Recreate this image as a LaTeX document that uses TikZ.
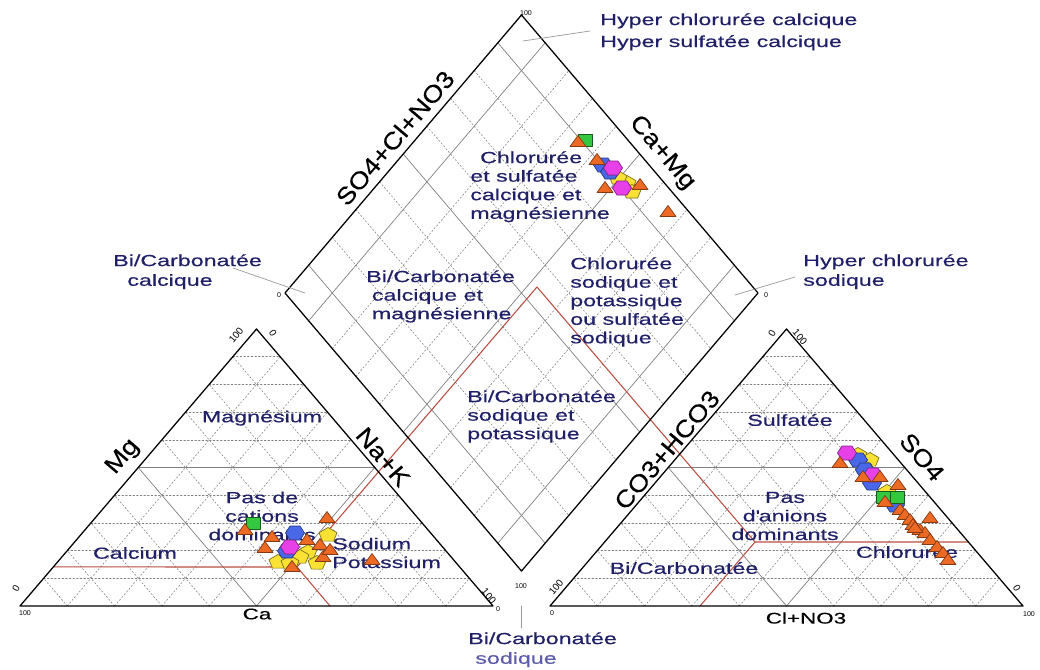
\documentclass[tikz,border=0pt]{standalone}
\usepackage{fontspec}
\setmainfont{Liberation Sans}[FakeStretch=1.45,FakeBold=0.4]
\newfontfamily\slantlab{Liberation Sans}[FakeStretch=1.14,FakeBold=0.3]
\newfontfamily\plainlab{Liberation Sans}
\usetikzlibrary{calc}

\definecolor{zonetext}{RGB}{32,32,104}
\definecolor{softtext}{RGB}{92,92,170}
\definecolor{projred}{RGB}{185,78,66}
\definecolor{gridgray}{RGB}{128,128,128}
\definecolor{mkorange}{RGB}{236,106,36}
\definecolor{mkyellow}{RGB}{250,226,52}
\definecolor{mkblue}{RGB}{72,104,232}
\definecolor{mkmagenta}{RGB}{232,64,232}
\definecolor{mkgreen}{RGB}{52,200,64}

\tikzset{
  mk/.style={line width=.5pt},
  otri/.pic={\draw[mk,fill=mkorange,draw=mkorange!55!black] (-8,4.5) -- (8,4.5) -- (0,-6.5) -- cycle;},
  ypent/.pic={\draw[mk,fill=mkyellow,draw=mkyellow!50!black] (0,-7.5) -- (-9,-2.3) -- (-5.6,6.1) -- (5.6,6.1) -- (9,-2.3) -- cycle;},
  bhex/.pic={\draw[mk,fill=mkblue,draw=mkblue!55!black] (-9.5,0) -- (-5,-7) -- (5,-7) -- (9.5,0) -- (5,7) -- (-5,7) -- cycle;},
  mhex/.pic={\draw[mk,fill=mkmagenta,draw=mkmagenta!55!black] (-9.5,0) -- (-5,-7) -- (5,-7) -- (9.5,0) -- (5,7) -- (-5,7) -- cycle;},
  gsq/.pic={\draw[mk,fill=mkgreen,draw=mkgreen!45!black] (-7,-6) rectangle (7,6);}
}

\begin{document}
\begin{tikzpicture}[x=0.025cm,y=-0.025cm,line cap=round,line join=round,
  rim/.style={line width=.9pt},
  maingrid/.style={line width=.5pt,gridgray},
  finegrid/.style={line width=.4pt,gridgray,dash pattern=on 1.2pt off 1.4pt},
  proj/.style={line width=.75pt,projred},
  lead/.style={line width=.5pt,black!40},
  zone/.style={text=zonetext,font=\fontsize{11.4}{13.2}\selectfont,inner sep=0pt},
  axlab/.style={font=\slantlab\fontsize{17}{20}\selectfont,inner sep=0pt},
  baselab/.style={font=\fontsize{11}{13}\selectfont,inner sep=0pt},
  numlab/.style={font=\plainlab\fontsize{5}{6}\selectfont,inner sep=0pt},
  rnumlab/.style={font=\plainlab\fontsize{7}{8}\selectfont,inner sep=0pt}]

  \useasboundingbox (0,0) rectangle (1040,670);

  %% ---- corners of the three plots
  \coordinate (L1) at (20,606);  \coordinate (L2) at (493,606);  \coordinate (L3) at (256.5,329);
  \coordinate (R1) at (550,606); \coordinate (R2) at (1023,606); \coordinate (R3) at (786.5,329);
  \coordinate (DL) at (285,293); \coordinate (DB) at (521.5,571);
  \coordinate (DR) at (758,293); \coordinate (DT) at (521.5,15);

  %% ---- grids
  % triangles: dashed every 10 %, solid at 50 %
  \foreach \t in {.1,.2,.3,.4,.6,.7,.8,.9} {
    \draw[finegrid] ($(L1)!\t!(L3)$) -- ($(L2)!\t!(L3)$);
    \draw[finegrid] ($(L1)!\t!(L2)$) -- ($(L3)!\t!(L2)$);
    \draw[finegrid] ($(L1)!\t!(L2)$) -- ($(L1)!\t!(L3)$);
    \draw[finegrid] ($(R1)!\t!(R3)$) -- ($(R2)!\t!(R3)$);
    \draw[finegrid] ($(R1)!\t!(R2)$) -- ($(R3)!\t!(R2)$);
    \draw[finegrid] ($(R1)!\t!(R2)$) -- ($(R1)!\t!(R3)$);
  }
  \draw[maingrid] ($(L1)!.5!(L3)$) -- ($(L2)!.5!(L3)$) -- ($(L1)!.5!(L2)$) -- cycle;
  \draw[maingrid] ($(R1)!.5!(R3)$) -- ($(R2)!.5!(R3)$) -- ($(R1)!.5!(R2)$) -- cycle;
  % diamond
  \foreach \t in {.2,.3,.4,.6,.7,.8} {
    \draw[finegrid] ($(DL)!\t!(DB)$) -- ($(DT)!\t!(DR)$);
    \draw[finegrid] ($(DL)!\t!(DT)$) -- ($(DB)!\t!(DR)$);
  }
  \foreach \t in {.1,.5,.9} {
    \draw[maingrid] ($(DL)!\t!(DB)$) -- ($(DT)!\t!(DR)$);
    \draw[maingrid] ($(DL)!\t!(DT)$) -- ($(DB)!\t!(DR)$);
  }

  %% ---- projection of the mean sample
  \coordinate (Pc) at (297,567);
  \coordinate (Pa) at (755,542);
  \coordinate (Pd) at (537,287);
  \draw[proj] ($(L1)!.141!(L3)$) -- (Pc) -- (330,606);
  \draw[proj] (Pc) -- (Pd) -- (Pa);
  \draw[proj] (700,606) -- (Pa) -- ($(R2)!.231!(R3)$);

  %% ---- frames
  \draw[rim] (L1) -- (L2) -- (L3) -- cycle;
  \draw[rim] (R1) -- (R2) -- (R3) -- cycle;
  \draw[rim] (DL) -- (DB) -- (DR) -- (DT) -- cycle;

  %% ---- axis titles and scale numbers
  \node[axlab,rotate=49.6]  (mg)   at (123,457) {Mg};
  \node[axlab,rotate=-49.6] (nak)  at (383,457) {Na+K};
  \node[baselab]            (ca)   at (257,614) {Ca};
  \node[axlab,rotate=49.6]  (co3)  at (667,450) {CO3+HCO3};
  \node[axlab,rotate=-49.6] (so4)  at (922,457) {SO4};
  \node[baselab]            (clno) at (806,618) {Cl+NO3};
  \node[axlab,rotate=49.6]  (so4cl) at (395,138) {SO4+Cl+NO3};
  \node[axlab,rotate=-49.6] (camg) at (662,153) {Ca+Mg};

  \node[numlab]               (nL1a) at (25,613)  {100};
  \node[rnumlab,rotate=60]    (nL1b) at (16,588)  {0};
  \node[rnumlab,rotate=49.6]  (nL3a) at (236,335) {100};
  \node[rnumlab,rotate=-60]   (nL3b) at (273,333) {0};
  \node[rnumlab,rotate=-49.6] (nL2a) at (489,596) {100};
  \node[numlab]               (nL2b) at (498,609) {0};
  \node[numlab]               (nR1a) at (552,613) {0};
  \node[rnumlab,rotate=49.6]  (nR1b) at (556,587) {100};
  \node[rnumlab,rotate=60]    (nR3a) at (772,333) {0};
  \node[rnumlab,rotate=-49.6] (nR3b) at (800,337) {100};
  \node[rnumlab,rotate=-60]   (nR2a) at (1017,588) {0};
  \node[numlab]               (nR2b) at (1029,614) {100};
  \node[numlab]               (nDT)  at (526,13)  {100};
  \node[numlab]               (nDL)  at (279,295) {0};
  \node[numlab]               (nDR)  at (766,295) {0};
  \node[numlab]               (nDB)  at (521,586) {100};

  %% ---- water types
  % diamond
  \node[zone,anchor=north west,align=left] (clsu)  at (470,151)
    {\hspace{7pt}Chlorurée\\et sulfatée\\calcique et\\magnésienne};
  \node[zone,anchor=north west,align=left] (bicm)  at (366,270)
    {Bi/Carbonatée\\\hspace{4pt}calcique et\\\hspace{4pt}magnésienne};
  \node[zone,anchor=north west,align=left] (clnak) at (570,257)
    {Chlorurée\\sodique et\\potassique\\ou sulfatée\\sodique};
  \node[zone,anchor=north west,align=left] (binak) at (467,390)
    {Bi/Carbonatée\\sodique et\\potassique};
  % cations
  \node[zone] (magn) at (262,418) {Magnésium};
  \node[zone,align=center] (nocat) at (262,516) {Pas de\\cations\\dominants};
  \node[zone] (calc) at (135,553) {Calcium};
  \node[zone,anchor=west,align=left] (napk) at (332,553) {Sodium\\Potassium};
  % anions
  \node[zone] (sulf) at (790,420) {Sulfatée};
  \node[zone,align=center] (noan) at (785,516) {Pas\\d\textquotesingle anions\\dominants};
  \node[zone] (bica) at (684,568) {Bi/Carbonatée};
  \node[zone] (chlo) at (907,552) {Chlorurée};
  % outer notes
  \node[zone,anchor=north west,align=left,font=\fontsize{11.4}{15.6}\selectfont] (hycc) at (600,13)
    {Hyper chlorurée calcique\\Hyper sulfatée calcique};
  \node[zone,anchor=north west,align=left,font=\fontsize{11.4}{14}\selectfont] (bicc) at (113,254)
    {Bi/Carbonatée\\\hspace{10pt}calcique};
  \node[zone,anchor=north west,align=left,font=\fontsize{11.4}{14}\selectfont] (hycs) at (803,254)
    {Hyper chlorurée\\sodique};
  \node[zone,anchor=north west,align=left,font=\fontsize{11.4}{14}\selectfont] (bics) at (468,632)
    {Bi/Carbonatée\\\hspace{5pt}\textcolor{softtext}{sodique}};

  \coordinate (hycc in) at (523,41);  \coordinate (hycc out) at (590,31);
  \coordinate (bicc in) at (305,293); \coordinate (bicc out) at (233,268);
  \coordinate (hycs in) at (735,295); \coordinate (hycs out) at (795,277);
  \coordinate (bics in) at (521,606); \coordinate (bics out) at (521,628);
  \draw[lead] (hycc in) -- (hycc out);
  \draw[lead] (bicc in) -- (bicc out);
  \draw[lead] (hycs in) -- (hycs out);
  \draw[lead] (bics in) -- (bics out);

  %% ---- samples (drawn last, over the labels)
  % cations
  \foreach \x/\y [count=\n] in {328/535,308/552,278/562,317/563,300/557,290/563}
    \pic (cy\n) at (\x,\y) {ypent};
  \foreach \x/\y [count=\n] in {295/533,287/551}
    \pic (cb\n) at (\x,\y) {bhex};
  \pic (cm1) at (290,547) {mhex};
  \pic (cg1) at (253,523) {gsq};
  \foreach \x/\y [count=\n] in {327/518,245/530,272/537,265/548,307/540,320/545,
      323/557,292/567,372/560,330/550}
    \pic (co\n) at (\x,\y) {otri};
  % diamond
  \foreach \x/\y [count=\n] in {627/183,632/192,618/178}
    \pic (dy\n) at (\x,\y) {ypent};
  \foreach \x/\y [count=\n] in {603/165,610/172}
    \pic (db\n) at (\x,\y) {bhex};
  \foreach \x/\y [count=\n] in {613/168,622/188}
    \pic (dm\n) at (\x,\y) {mhex};
  \pic (dg1) at (585,140) {gsq};
  \foreach \x/\y [count=\n] in {578/142,597/160,605/188,640/185,668/212}
    \pic (do\n) at (\x,\y) {otri};
  % anions
  \foreach \x/\y [count=\n] in {858/455,870/460,863/467,887/492}
    \pic (ay\n) at (\x,\y) {ypent};
  \foreach \x/\y [count=\n] in {858/460,865/470,872/483,895/505}
    \pic (ab\n) at (\x,\y) {bhex};
  \foreach \x/\y [count=\n] in {847/453,873/475}
    \pic (am\n) at (\x,\y) {mhex};
  \foreach \x/\y [count=\n] in {883/497,897/497}
    \pic (ag\n) at (\x,\y) {gsq};
  \foreach \x/\y [count=\n] in {840/463,863/477,880/477,898/485,885/502,900/510,
      905/515,910/520,913/525,920/530,925/533,930/540,937/547,943/553,948/560,
      930/518,915/528}
    \pic (ao\n) at (\x,\y) {otri};
\end{tikzpicture}
\end{document}
